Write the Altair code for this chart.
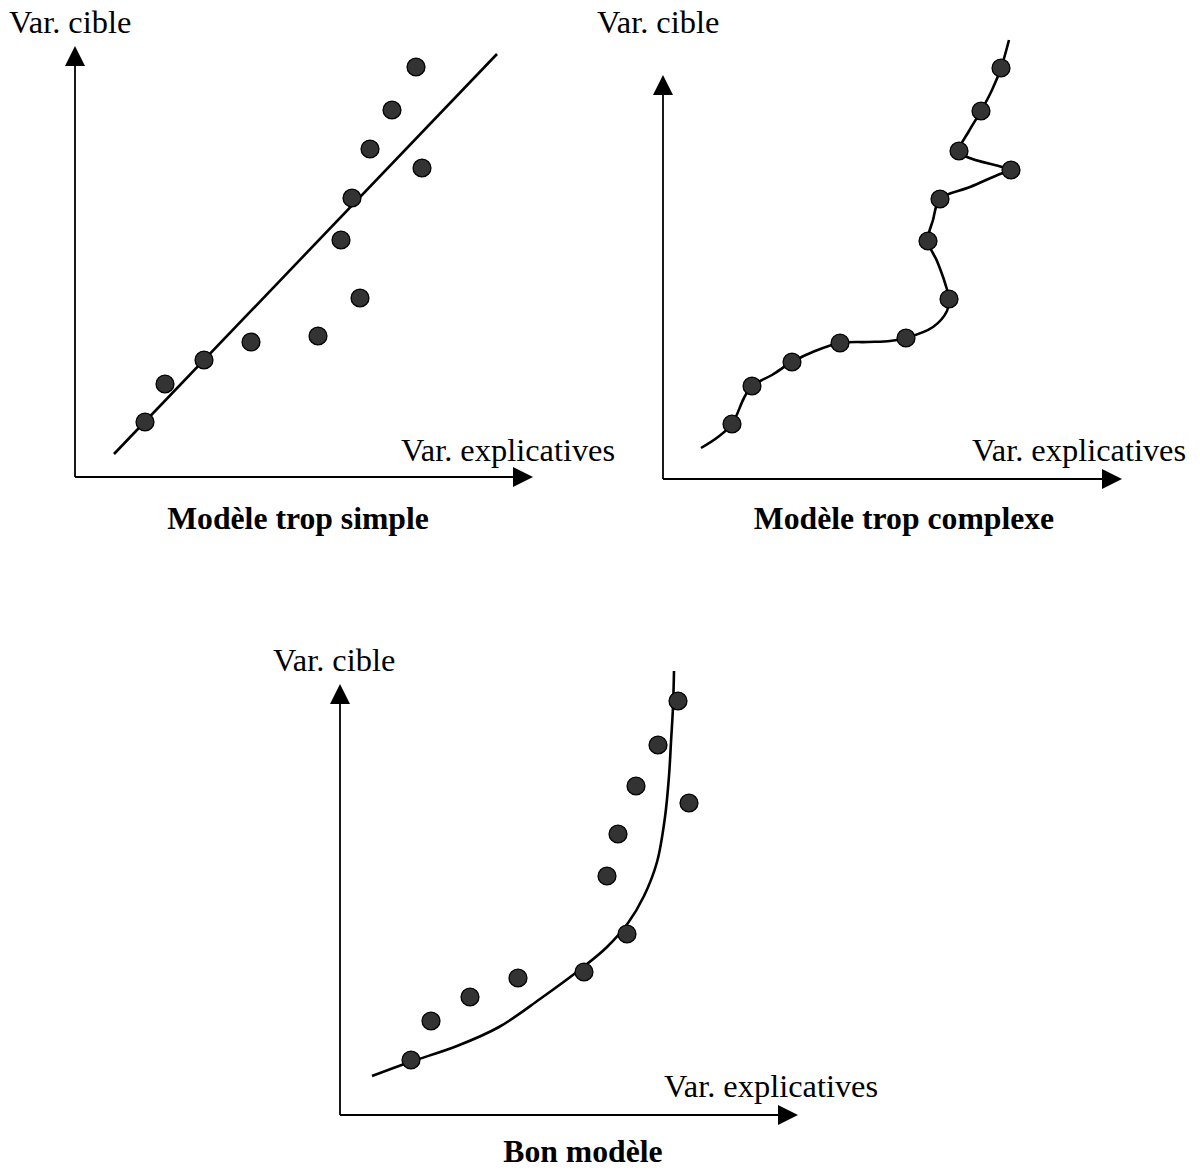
import altair as alt
import pandas as pd

# ---------------- data (picture coordinates) ----------------
# Panel 1 : "Modèle trop simple"
p1_x = [145, 165, 204, 251, 318, 360, 341, 352, 370, 392, 416, 422]
p1_y = [422, 384, 360, 342, 336, 298, 240, 198, 149, 110, 67, 168]
p1_fit_x = [114, 497]
p1_fit_y = [454, 54]

# Panel 2 : "Modèle trop complexe"
p2_x = [732, 752, 792, 840, 906, 949, 928, 940, 959, 1011, 981, 1001]
p2_y = [424, 386, 362, 343, 338, 299, 241, 199, 151, 170, 111, 68]
p2_fit_x = [701, 718, 732, 744, 752, 772, 792, 815, 840, 868, 890, 906, 933, 947, 949,
            945, 937, 928, 933, 940, 970, 1000, 1011, 1002, 967, 959, 969, 981, 992, 1001, 1009]
p2_fit_y = [448, 437, 424, 398, 386, 375, 362, 351, 343, 342, 341, 338, 327, 311, 299,
            283, 261, 241, 220, 199, 187, 174, 170, 167, 157, 151, 131, 111, 90, 68, 40]

# Panel 3 : "Bon modèle"
p3_x = [411, 431, 470, 518, 584, 627, 607, 618, 636, 658, 678, 689]
p3_y = [1060, 1021, 997, 978, 972, 934, 876, 834, 786, 745, 701, 803]
p3_fit_x = [372, 410, 457, 499, 540, 582, 607, 628, 644, 657, 665, 669, 671, 673, 674]
p3_fit_y = [1076, 1062, 1046, 1027, 999, 968, 947, 923, 896, 862, 817, 776, 742, 707, 671]

# Axes of each panel: origin, top of y axis (arrow tip), right end of x axis (arrow tip)
ax_origin_x = [75, 663, 340]
ax_origin_y = [477, 479, 1115]
ax_top_y = [46, 75, 684]
ax_right_x = [533, 1122, 798]

# Texts
y_label = "Var. cible"
x_label = "Var. explicatives"
titles = ["Modèle trop simple", "Modèle trop complexe", "Bon modèle"]
ylab_x = [9, 597, 273]
ylab_y = [33, 33, 671]
xlab_x = [401, 972, 664]
xlab_y = [461, 461, 1097]
title_x = [298, 904, 583]
title_y = [529, 529, 1162]

# ---------------- build tables ----------------
pts = pd.DataFrame({
    "x": p1_x + p2_x + p3_x,
    "y": p1_y + p2_y + p3_y,
})
fit1 = pd.DataFrame({"x": p1_fit_x, "y": p1_fit_y, "i": range(len(p1_fit_x))})
fit2 = pd.DataFrame({"x": p2_fit_x, "y": p2_fit_y, "i": range(len(p2_fit_x))})
fit3 = pd.DataFrame({"x": p3_fit_x, "y": p3_fit_y, "i": range(len(p3_fit_x))})

ARROW = 20  # arrow head side in px
segs = []
ups = []
rights = []
for k in range(3):
    ox, oy = ax_origin_x[k], ax_origin_y[k]
    segs.append({"x": ox, "y": oy, "x2": ox, "y2": ax_top_y[k] + ARROW - 1})
    segs.append({"x": ox, "y": oy, "x2": ax_right_x[k] - ARROW + 1, "y2": oy})
    ups.append({"x": ox, "y": ax_top_y[k] + ARROW / 2})
    rights.append({"x": ax_right_x[k] - ARROW / 2, "y": oy})
segs = pd.DataFrame(segs)
ups = pd.DataFrame(ups)
rights = pd.DataFrame(rights)

texts = pd.DataFrame({
    "t": [y_label] * 3 + [x_label] * 3,
    "x": ylab_x + xlab_x,
    "y": ylab_y + xlab_y,
})
tit = pd.DataFrame({"t": titles, "x": title_x, "y": title_y})

W, H = 1184, 1156
xs = alt.Scale(domain=[8, 8 + W], nice=False, zero=False)
ys = alt.Scale(domain=[8, 8 + H], nice=False, zero=False, reverse=True)
X = lambda f="x": alt.X(f"{f}:Q", scale=xs, axis=None)
Y = lambda f="y": alt.Y(f"{f}:Q", scale=ys, axis=None)

axes_lines = alt.Chart(segs).mark_rule(color="black", strokeWidth=1.8).encode(
    x=X(), y=Y(), x2="x2:Q", y2="y2:Q")
up_heads = alt.Chart(ups).mark_point(
    shape="M0,-1L1,1L-1,1Z", filled=True, color="black", opacity=1, size=ARROW * ARROW
).encode(x=X(), y=Y())
right_heads = alt.Chart(rights).mark_point(
    shape="M1,0L-1,-1L-1,1Z", filled=True, color="black", opacity=1, size=ARROW * ARROW
).encode(x=X(), y=Y())

line1 = alt.Chart(fit1).mark_line(color="black", strokeWidth=2.6).encode(
    x=X(), y=Y(), order="i:Q")
line2 = alt.Chart(fit2).mark_line(color="black", strokeWidth=2.6, interpolate="catmull-rom").encode(
    x=X(), y=Y(), order="i:Q")
line3 = alt.Chart(fit3).mark_line(color="black", strokeWidth=2.6, interpolate="catmull-rom").encode(
    x=X(), y=Y(), order="i:Q")

dots = alt.Chart(pts).mark_circle(
    size=320, color="#333333", stroke="black", strokeWidth=1.3, opacity=1
).encode(x=X(), y=Y())

labels = alt.Chart(texts).mark_text(
    align="left", baseline="alphabetic", font="Liberation Serif", fontSize=32.4, color="black"
).encode(x=X(), y=Y(), text="t:N")
title_marks = alt.Chart(tit).mark_text(
    align="center", baseline="alphabetic", font="Liberation Serif", fontSize=31.7,
    fontWeight="bold", color="black"
).encode(x=X(), y=Y(), text="t:N")

chart = alt.layer(
    axes_lines, up_heads, right_heads, line1, line2, line3, dots, labels, title_marks
).properties(
    width=W, height=H, autosize=alt.AutoSizeParams(type="none"), padding=0,
    background="white"
).configure_view(stroke=None)

chart.save("out.html", embed_options={"renderer": "svg", "actions": False})
